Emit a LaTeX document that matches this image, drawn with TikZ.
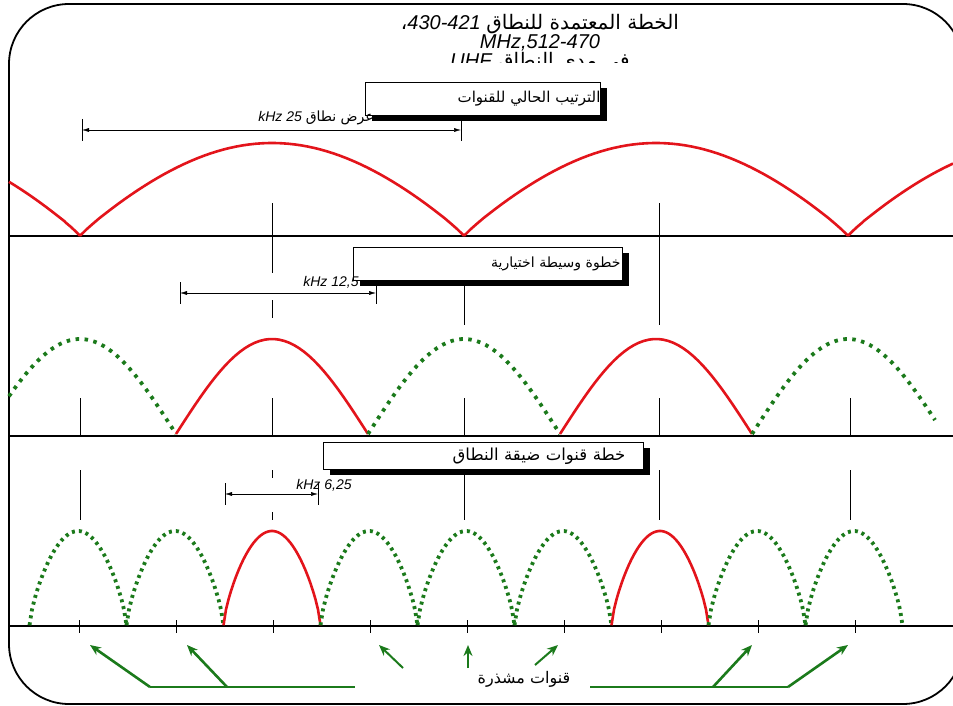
\documentclass[tikz,border=0pt]{standalone}
\usepackage{fontspec}
\setmainfont{Liberation Sans}
\newfontfamily\arabicfont[Script=Arabic]{DejaVu Sans}
\TeXXeTstate=1
\usetikzlibrary{arrows.meta, shadows}
\definecolor{chred}{HTML}{E3141B}
\definecolor{chgreen}{HTML}{1B7A1B}
\tikzset{
	redarc/.style={draw=chred, line width=2.6pt},
	greenarc/.style={draw=chgreen, line width=3.8pt, dash pattern=on 3pt off 4pt},
	sparsegreen/.style={greenarc, dash pattern=on 3.5pt off 5.5pt},
	axisline/.style={draw=black, line width=1.2pt},
	gridline/.style={draw=black, line width=1pt},
	rowbox/.style={draw=black, fill=white, line width=0.8pt, anchor=north west, inner ysep=3pt,
		drop shadow={shadow xshift=7pt, shadow yshift=-6pt, fill=black, opacity=1},
		font=\arabicfont, align=right},
	spanlbl/.style={inner sep=0pt, font=\fontsize{14}{16}\selectfont\itshape},
	spanarr/.style={{Latex[length=7pt,width=4pt]}-{Latex[length=7pt,width=4pt]}, line width=0.5pt},
	notearr/.style={-{Stealth[length=11pt,width=9pt]}, draw=chgreen, line width=2.6pt},
	noteline/.style={draw=chgreen, line width=2.6pt}
}

\begin{document}
\begin{tikzpicture}[x=1pt, y=-1pt]
	\useasboundingbox (0,0) rectangle (953,706);
	\clip (0,0) rectangle (953,706);
	% frame
	\draw[line width=1.8pt, rounded corners=60pt] (9,4) rectangle (963,704);

	% title, last line cut off
	\begin{scope}
		\clip (360,0) rectangle (740,63);
		\node[align=center, inner sep=0pt, font=\fontsize{20}{19}\selectfont] (title) at (540,43)
			{{\arabicfont ،}\textit{430-421} {\arabicfont\beginR الخطة المعتمدة للنطاق\endR}\\
			\textit{MHz,512-470}\\
			\textit{UHF} {\arabicfont\beginR في مدى النطاق\endR}};
	\end{scope}

	% axes
	\draw[axisline] (9,236) -- (953,236);
	\draw[axisline] (9,436) -- (953,436);
	\draw[axisline] (9,626) -- (953,626);

	% grid lines
	\draw[gridline] (272,203) -- (272,273) (272,300) -- (272,318);
	\draw[gridline] (659,203) -- (659,325);
	\draw[gridline] (464,283) -- (464,325);
	\foreach \k in {80,272,464,659,850}
		\draw[gridline] (\k,398) -- (\k,436);
	\foreach \k in {80,464,659,850}
		\draw[gridline] (\k,470) -- (\k,520);
	\draw[gridline] (272,470) -- (272,478) (272,512) -- (272,520);
	\foreach \k in {0,...,8}
		\draw[gridline] ({79+97*\k},620) -- ({79+97*\k},633);

	% row 1: 25 kHz
	\foreach \c in {-112,272,656,1040} {
		\pgfmathsetmacro\a{max(9,\c-192)}
		\pgfmathsetmacro\b{min(953,\c+192)}
		\draw[redarc] plot[variable=\u, domain=\a:\b, samples=60] (\u, {236-93*max(sin((\u-\c+192)*0.46875),0.001)^0.9});
	}

	% row 2: 12.5 kHz
	\foreach \c/\s in {80/sparsegreen, 272/redarc, 464/sparsegreen, 656/redarc, 848/sparsegreen} {
		\pgfmathsetmacro\a{max(9,\c-96)}
		\pgfmathsetmacro\b{min(935,\c+96)}
		\draw[\s] plot[variable=\u, domain=\a:\b, samples=40] (\u, {434-95*sin((\u-\c+96)*0.9375)});
	}

	% row 3: 6.25 kHz
	\foreach \k/\s in {0/greenarc, 1/greenarc, 2/redarc, 3/greenarc, 4/greenarc,
		5/greenarc, 6/redarc, 7/greenarc, 8/greenarc} {
		\pgfmathsetmacro\c{78+97*\k}
		\pgfmathsetmacro\a{\c-48.5}
		\pgfmathsetmacro\b{\c+48.5}
		\draw[\s] plot[variable=\u, domain=\a:\b, samples=40] (\u, {626-95*max(sin((\u-\c+48.5)*1.8557),0.001)^0.7});
	}

	% row boxes
	\node[rowbox, minimum height=33pt, inner xsep=0pt, text width=235pt, font=\fontsize{15}{17}\selectfont\arabicfont]
		(box1) at (365,82) {\beginR الترتيب الحالي للقنوات\endR};
	\node[rowbox, minimum height=33pt, inner xsep=2pt, text width=265pt, font=\fontsize{14}{16}\selectfont\arabicfont]
		(box2) at (353,247) {\beginR خطوة وسيطة اختيارية\endR};
	\node[rowbox, minimum height=27pt, inner xsep=18pt, text width=284pt, font=\fontsize{16.5}{18}\selectfont\arabicfont]
		(box3) at (323,442) {\beginR خطة قنوات ضيقة النطاق\endR};

	% spacing brackets
	\coordinate (w25a) at (82,130);
	\coordinate (w25b) at (461,130);
	\draw[gridline, line width=0.8pt] (82,119) -- (82,141) (461,119) -- (461,141);
	\draw[spanarr] (w25a) -- (w25b);
	\node[spanlbl] (lbl25) at (316,118) {kHz 25 {\upshape\arabicfont\beginR عرض نطاق\endR}};

	\coordinate (w12a) at (180,293);
	\coordinate (w12b) at (376,293);
	\draw[gridline, line width=0.8pt] (180,282) -- (180,304) (376,284) -- (376,304);
	\draw[spanarr] (w12a) -- (w12b);
	\node[spanlbl] (lbl12) at (331,282) {kHz 12,5};

	\coordinate (w6a) at (225,494);
	\coordinate (w6b) at (318,494);
	\draw[gridline, line width=0.8pt] (225,483) -- (225,505) (318,483) -- (318,505);
	\draw[spanarr] (w6a) -- (w6b);
	\node[spanlbl] (lbl6) at (324,485) {kHz 6,25};

	% interleaved channels
	\coordinate (lhub) at (150,687);
	\coordinate (lmid) at (227,687);
	\coordinate (lend) at (355,687);
	\coordinate (t1) at (90,645);
	\coordinate (t2) at (187,645);
	\coordinate (s3) at (403,668);
	\coordinate (t3) at (379,645);
	\coordinate (s4) at (468,668);
	\coordinate (t4) at (468,645);
	\coordinate (s5) at (535,665);
	\coordinate (t5) at (558,645);
	\coordinate (rstart) at (590,687);
	\coordinate (rmid) at (713,687);
	\coordinate (rhub) at (788,687);
	\coordinate (t6) at (752,645);
	\coordinate (t7) at (848,645);
	\draw[noteline] (lhub) -- (lend);
	\draw[notearr] (lhub) -- (t1);
	\draw[notearr] (lmid) -- (t2);
	\draw[notearr, line width=2pt] (s3) -- (t3);
	\draw[notearr, line width=2pt] (s4) -- (t4);
	\draw[notearr, line width=2pt] (s5) -- (t5);
	\draw[noteline] (rstart) -- (rhub);
	\draw[notearr] (rmid) -- (t6);
	\draw[notearr] (rhub) -- (t7);
	\node[inner sep=0pt, font=\fontsize{16}{18}\selectfont\arabicfont] (ilbl) at (524,679) {\beginR قنوات مشذرة\endR};
\end{tikzpicture}
\end{document}
